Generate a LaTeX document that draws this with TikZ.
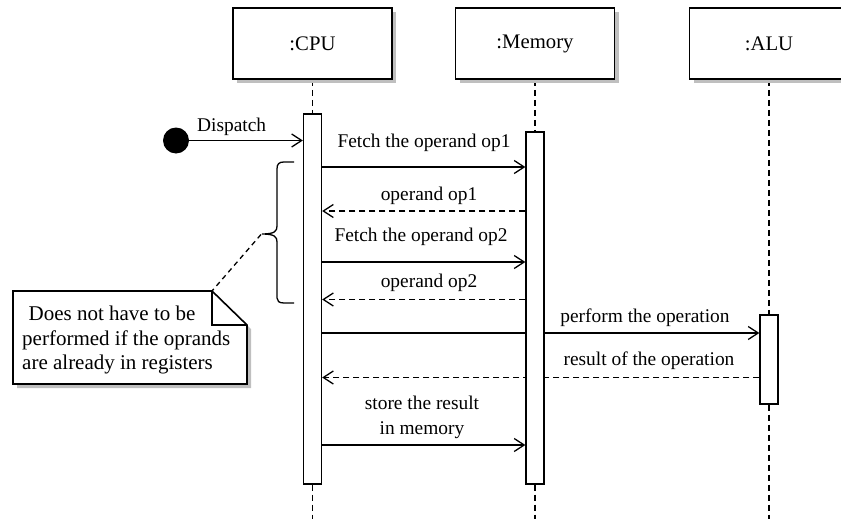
\documentclass[tikz,border=0pt]{standalone}
\usepackage{fontspec}
\setmainfont{Liberation Serif}
\usetikzlibrary{arrows.meta,shadows}
\pgfdeclarelayer{bg}
\pgfsetlayers{bg,main}
\begin{document}
\begin{tikzpicture}[x=1pt,y=-1pt,
  font=\fontsize{19.4}{25}\selectfont,
  lifebox/.style={draw, line width=1.6pt, fill=white, minimum width=159pt, minimum height=71pt, inner sep=0pt,
    font=\fontsize{20.7}{25}\selectfont,
    drop shadow={shadow xshift=4pt, shadow yshift=-4pt, fill=black!25, opacity=1}},
  actbar/.style={draw, line width=1.3pt, fill=white, minimum width=18pt, inner sep=0pt},
  lifeline/.style={line width=1.3pt, dash pattern=on 6pt off 4pt},
  call/.style={line width=1.3pt, -{Straight Barb[length=10pt,width=13pt,line width=1.3pt]}},
  reply/.style={call, dash pattern=on 6pt off 4pt},
  msglabel/.style={anchor=base, inner sep=0pt},
  notebox/.style={draw, line width=1.6pt, fill=white, line join=miter,
    drop shadow={shadow xshift=4pt, shadow yshift=-4pt, fill=black!25, opacity=1}},
]
\useasboundingbox (0,0) rectangle (841,519);
\clip (0,0) rectangle (841,519);

% lifeline heads
\node[lifebox] (cpu) at (312.5,43.5) {:CPU};
\node[lifebox] (mem) at (535,43.5) {:Memory};
\node[lifebox] (alu) at (769,43.5) {:ALU};

% activation bars
\node[actbar, minimum height=370pt] (cpubar) at (312.5,299) {};
\node[actbar, minimum height=352pt] (membar) at (535,308) {};
\node[actbar, minimum height=89pt] (alubar) at (769,359.5) {};

\coordinate (cpuend) at (312.5,525);
\coordinate (memend) at (535,525);
\coordinate (aluend) at (769,525);

% initial node
\node[circle, fill=black, minimum size=26pt, inner sep=0pt] (start) at (176,140.5) {};

\begin{pgfonlayer}{bg}
  \draw[lifeline] (cpu.south) -- (cpubar.north);
  \draw[lifeline] (cpubar.south) -- (cpuend);
  \draw[lifeline] (mem.south) -- (membar.north);
  \draw[lifeline] (membar.south) -- (memend);
  \draw[lifeline] (alu.south) -- (alubar.north);
  \draw[lifeline] (alubar.south) -- (aluend);

  \draw[call] (start.east) -- (cpubar.west |- start.east);
  \draw[call] (cpubar.east |- 0,167) -- (membar.west |- 0,167);
  \draw[reply] (membar.west |- 0,211) -- (cpubar.east |- 0,211);
  \draw[call] (cpubar.east |- 0,262) -- (membar.west |- 0,262);
  \draw[reply] (membar.west |- 0,299.5) -- (cpubar.east |- 0,299.5);
  \draw[call] (cpubar.east |- 0,333) -- (alubar.west |- 0,333);
  \draw[reply] (alubar.west |- 0,377.5) -- (cpubar.east |- 0,377.5);
  \draw[call] (cpubar.east |- 0,445) -- (membar.west |- 0,445);
\end{pgfonlayer}

% message labels
\node[msglabel] (ldisp) at (231.7,131.7) {Dispatch};
\node[msglabel] (l1) at (424,147) {Fetch the operand op1};
\node[msglabel] (l2) at (429,200) {operand op1};
\node[msglabel] (l3) at (421,241.5) {Fetch the operand op2};
\node[msglabel] (l4) at (429,287.5) {operand op2};
\node[msglabel] (l5) at (645,322.5) {perform the operation};
\node[msglabel] (l6) at (649,365) {result of the operation};
\node[msglabel] (l7a) at (422,409.5) {store the result};
\node[msglabel] (l7b) at (422,434.5) {in memory};

% brace
\draw[line width=1.3pt] (294,162) -- (284,162) .. controls (279,162) and (277,164) .. (277,169)
  -- (277,226) .. controls (277,231) and (275,234) .. (262,234)
  .. controls (275,234) and (277,237) .. (277,242)
  -- (277,298) .. controls (277,301) and (279,303) .. (284,303) -- (294,303);
\coordinate (bracetip) at (261,234.5);

% note
\draw[notebox] (13,291) -- (212,291) -- (247,325) -- (247,384) -- (13,384) -- cycle;
\draw[line width=1.3pt] (212,291) -- (212,325) -- (247,325);
\coordinate (notecorner) at (212,291);
\node[anchor=north west, inner sep=0pt, align=left, font=\fontsize{21}{24.7}\selectfont] (notetext) at (22,305.7)
  {\hspace*{6.5pt}Does not have to be\\performed if the oprands\\are already in registers};
\draw[line width=1.3pt, dash pattern=on 5pt off 4pt] (bracetip) -- (notecorner);
\end{tikzpicture}
\end{document}
